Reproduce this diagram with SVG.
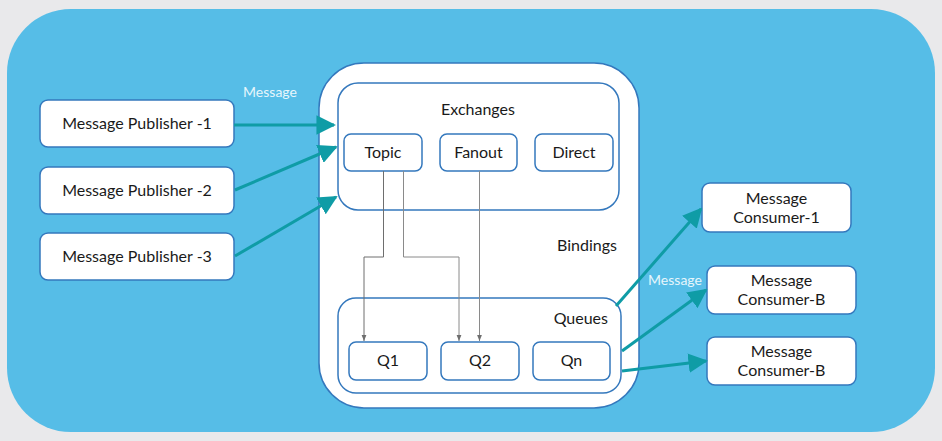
<svg xmlns="http://www.w3.org/2000/svg" width="942" height="441" viewBox="0 0 942 441">
<defs>
<style>
.box{fill:#fff;stroke:#3478bd;stroke-width:1.5}
.t{font-family:Lato,"Liberation Sans",sans-serif;font-size:16px;fill:#1a1a1a;text-anchor:middle}
.lbl{font-family:Lato,"Liberation Sans",sans-serif;font-size:14px;fill:#e6f6fc;text-anchor:middle}
.msg{stroke:#0f9ca6;stroke-width:3;fill:none;marker-end:url(#ah)}
.bind{stroke:#6e6e6e;stroke-width:1;fill:none;marker-end:url(#sh)}
</style>
<marker id="ah" viewBox="0 0 10 10" refX="9" refY="5" markerWidth="6.5" markerHeight="6.5" markerUnits="strokeWidth" orient="auto"><path d="M0,0 L10,5 L0,10 z" fill="#0f9ca6"/></marker>
<marker id="sh" viewBox="0 0 10 10" refX="10" refY="5" markerWidth="6" markerHeight="6" markerUnits="strokeWidth" orient="auto"><path d="M0,1 L10,5 L0,9 z" fill="#6e6e6e"/></marker>
</defs>
<rect width="942" height="441" fill="#e9e9eb"/>
<rect x="7" y="9" width="928" height="423" rx="64" fill="#56bde7"/>
<g id="broker">
<rect x="319" y="63" width="320" height="345" rx="45" class="box"/>
</g>
<g id="exchanges">
<rect x="338" y="83" width="281" height="127" rx="20" class="box"/>
<text x="478" y="115" class="t">Exchanges</text>
</g>
<g id="topic"><rect x="344" y="134" width="78" height="37" rx="7" class="box"/><text x="383" y="158" class="t">Topic</text></g>
<g id="fanout"><rect x="440" y="134" width="77" height="37" rx="7" class="box"/><text x="478.5" y="158" class="t">Fanout</text></g>
<g id="direct"><rect x="535" y="134" width="78" height="37" rx="7" class="box"/><text x="574" y="158" class="t">Direct</text></g>
<g id="bindings"><text x="587" y="251" class="t">Bindings</text></g>
<g id="queues">
<rect x="338" y="298" width="283" height="95" rx="18" class="box"/>
<text x="608" y="324" class="t" style="text-anchor:end">Queues</text>
</g>
<g id="q1"><rect x="349" y="342" width="78" height="38" rx="7" class="box"/><text x="388" y="366" class="t">Q1</text></g>
<g id="q2"><rect x="441" y="342" width="78" height="38" rx="7" class="box"/><text x="480" y="366" class="t">Q2</text></g>
<g id="qn"><rect x="533" y="342" width="77" height="38" rx="7" class="box"/><text x="571.5" y="366" class="t">Qn</text></g>
<g id="pub1"><rect x="40" y="100" width="194" height="47" rx="8" class="box"/><text x="137" y="129" class="t">Message Publisher -1</text></g>
<g id="pub2"><rect x="40" y="167" width="194" height="47" rx="8" class="box"/><text x="137" y="196" class="t">Message Publisher -2</text></g>
<g id="pub3"><rect x="40" y="233" width="194" height="47" rx="8" class="box"/><text x="137" y="262" class="t">Message Publisher -3</text></g>
<g id="con1"><rect x="702" y="183" width="149" height="49" rx="8" class="box"/><text x="776.5" y="204" class="t">Message</text><text x="776.5" y="223" class="t">Consumer-1</text></g>
<g id="con2"><rect x="707" y="266" width="149" height="48" rx="8" class="box"/><text x="781.5" y="286" class="t">Message</text><text x="781.5" y="305" class="t">Consumer-B</text></g>
<g id="con3"><rect x="707" y="337" width="149" height="48" rx="8" class="box"/><text x="781.5" y="357" class="t">Message</text><text x="781.5" y="376" class="t">Consumer-B</text></g>
<g id="connectors">
<path class="msg" d="M234,125 L334,125"/>
<path class="msg" d="M235,190 L336,147"/>
<path class="msg" d="M235,256 L336,197"/>
<path class="msg" d="M616,306 L701,209"/>
<path class="msg" d="M622,351 L706,290"/>
<path class="msg" d="M622,371 L706,361"/>
<path class="bind" d="M383.5,171 V257 H364 V341"/>
<path class="bind" d="M403.5,171 V257 H459 V341" style="stroke:#8a8a8a"/>
<path class="bind" d="M479.5,171 V341" style="stroke:#8a8a8a"/>
<text x="270" y="97" class="lbl">Message</text>
<text x="675" y="285" class="lbl">Message</text>
</g>
</svg>
